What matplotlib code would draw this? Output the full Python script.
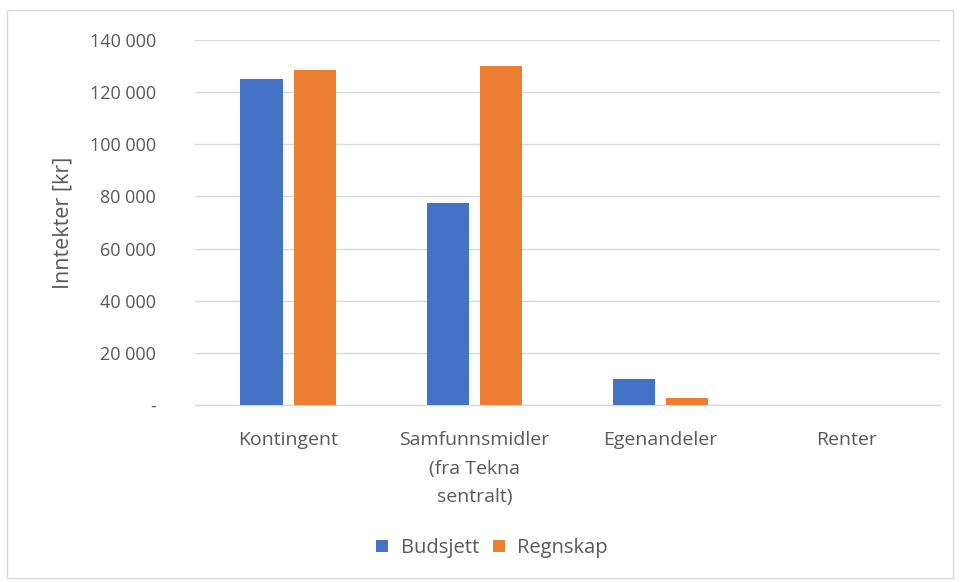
import numpy as np
import matplotlib.pyplot as plt
from matplotlib.patches import Rectangle

# data
kategorier = ["Kontingent", "Samfunnsmidler\n(fra Tekna\nsentralt)", "Egenandeler", "Renter"]
budsjett = [125000, 77500, 10000, 0]
regnskap = [128500, 130000, 2500, 0]
yticks = [0, 20000, 40000, 60000, 80000, 100000, 120000, 140000]

blue = "#4472C4"
orange = "#ED7D31"
grey = "#595959"

plt.rcParams['font.family'] = ['Open Sans', 'DejaVu Sans']

fig = plt.figure(figsize=(9.6, 5.82), dpi=100)
ax = fig.add_axes([195/960, 1-405/582, 745/960, 365/582])

# chart border like excel
fig.patches.append(Rectangle((7/960, 1-578/582), 946/960, 568/582, transform=fig.transFigure,
                             fill=False, edgecolor="#D9D9D9", lw=1))

x = np.arange(len(kategorier))
w = 0.226
ax.bar(x - 0.143, budsjett, w, color=blue, label="Budsjett", zorder=3)
ax.bar(x + 0.143, regnskap, w, color=orange, label="Regnskap", zorder=3)

ax.set_xlim(-0.5, len(kategorier) - 0.5)
ax.set_ylim(0, 140000)
ax.set_yticks(yticks)
ax.set_yticklabels(["-" if v == 0 else f"{v:,}".replace(",", " ") for v in yticks])
ax.set_xticks(x)
ax.set_xticklabels(kategorier, linespacing=1.75)

ax.grid(axis="y", color="#D9D9D9", lw=1, zorder=0)
for s in ["top", "right", "left"]:
    ax.spines[s].set_visible(False)
ax.spines["bottom"].set_color("#D9D9D9")
ax.spines["bottom"].set_linewidth(1)
ax.tick_params(axis="x", length=0, colors=grey, labelsize=14, pad=19)
ax.tick_params(axis="y", length=0, colors=grey, labelsize=13, pad=28)
ax.set_ylabel("Inntekter [kr]", color=grey, fontsize=15.5, labelpad=12)

fig.legend(*ax.get_legend_handles_labels(), loc="center", bbox_to_anchor=(492/960, 1-548/582),
           ncol=2, frameon=False, fontsize=14.5, labelcolor=grey,
           handlelength=0.6, handleheight=0.6, columnspacing=0.7, handletextpad=0.6)

fig.savefig("out.png", dpi=100)
